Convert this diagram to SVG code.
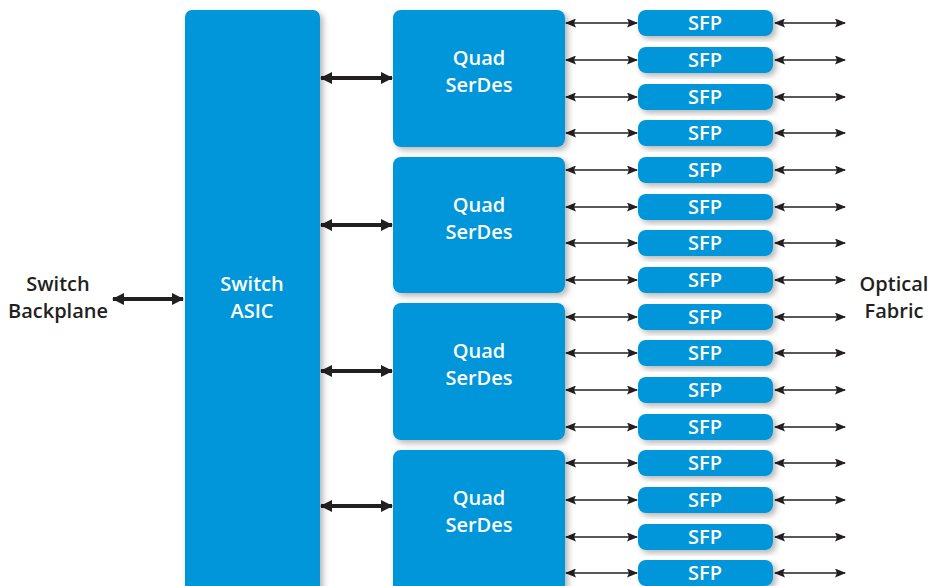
<svg xmlns="http://www.w3.org/2000/svg" width="932" height="586" viewBox="0 0 932 586">
<defs>
<filter id="sh" x="-10%" y="-10%" width="130%" height="130%">
<feGaussianBlur in="SourceAlpha" stdDeviation="3"/>
<feOffset dx="3" dy="3" result="b"/>
<feComponentTransfer><feFuncA type="linear" slope="0.3"/></feComponentTransfer>
<feMerge><feMergeNode/><feMergeNode in="SourceGraphic"/></feMerge>
</filter>
<marker id="ts" markerWidth="11" markerHeight="9" refX="1" refY="4.5" orient="auto" markerUnits="userSpaceOnUse"><path d="M11,0 L0,4.5 L11,9 L9,4.5 Z" fill="#231f20"/></marker>
<marker id="te" markerWidth="11" markerHeight="9" refX="10" refY="4.5" orient="auto" markerUnits="userSpaceOnUse"><path d="M0,0 L11,4.5 L0,9 L2,4.5 Z" fill="#231f20"/></marker>
<marker id="bs" markerWidth="12" markerHeight="12" refX="1" refY="6" orient="auto" markerUnits="userSpaceOnUse"><path d="M12,0 L0,6 L12,12 Z" fill="#231f20"/></marker>
<marker id="be" markerWidth="12" markerHeight="12" refX="11" refY="6" orient="auto" markerUnits="userSpaceOnUse"><path d="M0,0 L12,6 L0,12 Z" fill="#231f20"/></marker>
</defs>
<style>
.box{fill:#0096d9;filter:url(#sh)}
.wt{fill:#ffffff;font-family:"Open Sans","Noto Sans",sans-serif;font-weight:600;font-size:20px;text-anchor:middle}
.bt{fill:#231f20;font-family:"Open Sans","Noto Sans",sans-serif;font-weight:600;font-size:20px;text-anchor:middle}
.thin{stroke:#231f20;stroke-width:1.6;fill:none;marker-start:url(#ts);marker-end:url(#te)}
.thick{stroke:#231f20;stroke-width:4;fill:none;marker-start:url(#bs);marker-end:url(#be)}
</style>
<rect width="932" height="586" fill="#ffffff"/>
<g id="connectors">
<line class="thick" x1="113" y1="299" x2="183" y2="299"/>
<line class="thick" x1="321" y1="78" x2="392" y2="78"/>
<line class="thick" x1="321" y1="225" x2="392" y2="225"/>
<line class="thick" x1="321" y1="371" x2="392" y2="371"/>
<line class="thick" x1="321" y1="506" x2="392" y2="506"/>
<g id="sfp-links">
<line class="thin" x1="566" y1="23" x2="637" y2="23"/><line class="thin" x1="775" y1="23" x2="845" y2="23"/>
<line class="thin" x1="566" y1="60" x2="637" y2="60"/><line class="thin" x1="775" y1="60" x2="845" y2="60"/>
<line class="thin" x1="566" y1="97" x2="637" y2="97"/><line class="thin" x1="775" y1="97" x2="845" y2="97"/>
<line class="thin" x1="566" y1="133" x2="637" y2="133"/><line class="thin" x1="775" y1="133" x2="845" y2="133"/>
<line class="thin" x1="566" y1="170" x2="637" y2="170"/><line class="thin" x1="775" y1="170" x2="845" y2="170"/>
<line class="thin" x1="566" y1="207" x2="637" y2="207"/><line class="thin" x1="775" y1="207" x2="845" y2="207"/>
<line class="thin" x1="566" y1="243" x2="637" y2="243"/><line class="thin" x1="775" y1="243" x2="845" y2="243"/>
<line class="thin" x1="566" y1="280" x2="637" y2="280"/><line class="thin" x1="775" y1="280" x2="845" y2="280"/>
<line class="thin" x1="566" y1="317" x2="637" y2="317"/><line class="thin" x1="775" y1="317" x2="845" y2="317"/>
<line class="thin" x1="566" y1="353" x2="637" y2="353"/><line class="thin" x1="775" y1="353" x2="845" y2="353"/>
<line class="thin" x1="566" y1="390" x2="637" y2="390"/><line class="thin" x1="775" y1="390" x2="845" y2="390"/>
<line class="thin" x1="566" y1="427" x2="637" y2="427"/><line class="thin" x1="775" y1="427" x2="845" y2="427"/>
<line class="thin" x1="566" y1="463" x2="637" y2="463"/><line class="thin" x1="775" y1="463" x2="845" y2="463"/>
<line class="thin" x1="566" y1="500" x2="637" y2="500"/><line class="thin" x1="775" y1="500" x2="845" y2="500"/>
<line class="thin" x1="566" y1="537" x2="637" y2="537"/><line class="thin" x1="775" y1="537" x2="845" y2="537"/>
<line class="thin" x1="566" y1="573" x2="637" y2="573"/><line class="thin" x1="775" y1="573" x2="845" y2="573"/>
</g>
</g>
<g id="backplane-label"><text class="bt" x="58" y="291">Switch</text><text class="bt" x="58" y="318">Backplane</text></g>
<g id="fabric-label"><text class="bt" x="894" y="291">Optical</text><text class="bt" x="894" y="318">Fabric</text></g>
<g id="asic"><rect class="box" x="185" y="10" width="135" height="590" rx="7"/><text class="wt" x="252" y="291">Switch</text><text class="wt" x="252" y="318">ASIC</text></g>
<g id="serdes1"><rect class="box" x="393" y="10" width="172" height="137" rx="8"/><text class="wt" x="479" y="65">Quad</text><text class="wt" x="479" y="92">SerDes</text></g>
<g id="serdes2"><rect class="box" x="393" y="157" width="172" height="136" rx="8"/><text class="wt" x="479" y="212">Quad</text><text class="wt" x="479" y="239">SerDes</text></g>
<g id="serdes3"><rect class="box" x="393" y="303" width="172" height="137" rx="8"/><text class="wt" x="479" y="358">Quad</text><text class="wt" x="479" y="385">SerDes</text></g>
<g id="serdes4"><rect class="box" x="393" y="450" width="172" height="150" rx="8"/><text class="wt" x="479" y="505">Quad</text><text class="wt" x="479" y="532">SerDes</text></g>
<g id="sfp1"><rect class="box" x="638" y="10" width="135" height="26" rx="8"/><text class="wt" x="705" y="30">SFP</text></g>
<g id="sfp2"><rect class="box" x="638" y="47" width="135" height="26" rx="8"/><text class="wt" x="705" y="67">SFP</text></g>
<g id="sfp3"><rect class="box" x="638" y="84" width="135" height="26" rx="8"/><text class="wt" x="705" y="104">SFP</text></g>
<g id="sfp4"><rect class="box" x="638" y="120" width="135" height="26" rx="8"/><text class="wt" x="705" y="140">SFP</text></g>
<g id="sfp5"><rect class="box" x="638" y="157" width="135" height="26" rx="8"/><text class="wt" x="705" y="177">SFP</text></g>
<g id="sfp6"><rect class="box" x="638" y="194" width="135" height="26" rx="8"/><text class="wt" x="705" y="214">SFP</text></g>
<g id="sfp7"><rect class="box" x="638" y="230" width="135" height="26" rx="8"/><text class="wt" x="705" y="250">SFP</text></g>
<g id="sfp8"><rect class="box" x="638" y="267" width="135" height="26" rx="8"/><text class="wt" x="705" y="287">SFP</text></g>
<g id="sfp9"><rect class="box" x="638" y="304" width="135" height="26" rx="8"/><text class="wt" x="705" y="324">SFP</text></g>
<g id="sfp10"><rect class="box" x="638" y="340" width="135" height="26" rx="8"/><text class="wt" x="705" y="360">SFP</text></g>
<g id="sfp11"><rect class="box" x="638" y="377" width="135" height="26" rx="8"/><text class="wt" x="705" y="397">SFP</text></g>
<g id="sfp12"><rect class="box" x="638" y="414" width="135" height="26" rx="8"/><text class="wt" x="705" y="434">SFP</text></g>
<g id="sfp13"><rect class="box" x="638" y="450" width="135" height="26" rx="8"/><text class="wt" x="705" y="470">SFP</text></g>
<g id="sfp14"><rect class="box" x="638" y="487" width="135" height="26" rx="8"/><text class="wt" x="705" y="507">SFP</text></g>
<g id="sfp15"><rect class="box" x="638" y="524" width="135" height="26" rx="8"/><text class="wt" x="705" y="544">SFP</text></g>
<g id="sfp16"><rect class="box" x="638" y="560" width="135" height="26" rx="8"/><text class="wt" x="705" y="580">SFP</text></g>
</svg>
